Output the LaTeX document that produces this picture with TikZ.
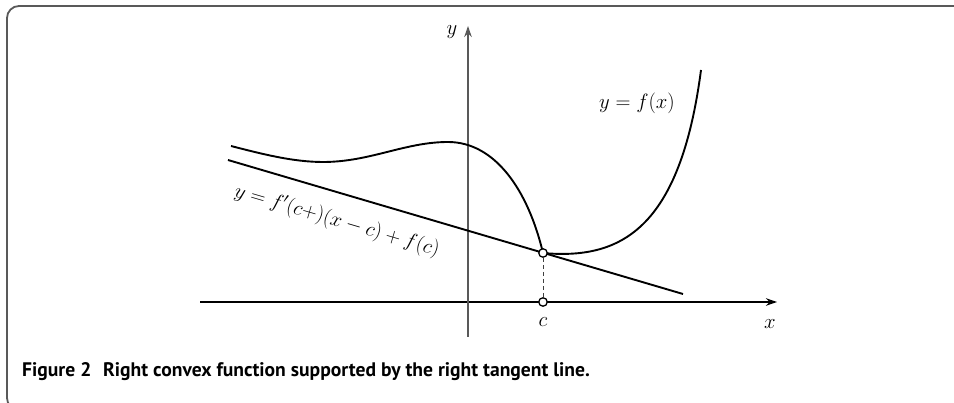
\documentclass[tikz,border=0pt]{standalone}
\usepackage{fontspec}
\setsansfont{PT Sans}
\usetikzlibrary{arrows.meta}
\begin{document}
\begin{tikzpicture}[x=1pt,y=-1pt,
  curve/.style={line width=1.9pt,black,line join=round},
  axis/.style={line width=1.5pt},
  dot/.style={circle,draw=black,fill=white,line width=1.3pt,inner sep=0pt,minimum size=8.5pt},
  lab/.style={font=\fontsize{22}{26}\selectfont,inner sep=0pt},
  arr/.style={-{Stealth[length=11pt,width=7.5pt]}}]
\useasboundingbox (0,0) rectangle (954,403);
% frame
\draw[line width=1.8pt,gray!70!black,rounded corners=12pt] (970,6) -- (7,6) -- (7,410) -- (40,410);
% axes
\coordinate (xs) at (200,302);
\coordinate (xe) at (777,302);
\coordinate (ys) at (468,337);
\coordinate (ye) at (468,26);
\draw[axis,black,arr] (xs) -- (xe);
\draw[axis,line width=1.8pt,gray!70!black,arr] (ys) -- (ye);
\node[lab] (ylab) at (452,32) {$y$};
\node[lab] (xlab) at (770,324) {$x$};
% tangent line
\coordinate (ts) at (228,160);
\coordinate (te) at (683,294);
\draw[curve] (ts) -- (te);
% curve
\coordinate (c0) at (231,146);
\coordinate (c1) at (323,162);
\coordinate (c2) at (448,142);
\coordinate (c3) at (543,253);
\coordinate (c4) at (701,70);
\draw[curve] (c0) .. controls (262,154) and (293,162) .. (c1)
  .. controls (370,162) and (405,142) .. (c2)
  .. controls (495,142) and (528,190) .. (c3);
\draw[curve] (c3) .. controls (620,260) and (680,230) .. (c4);
% points
\node[dot] (P) at (c3) {};
\node[dot] (C) at (543,302) {};
\draw[line width=1pt,gray!50!black,dash pattern=on 4pt off 3pt] (P) -- (C);
\node[lab] (clab) at (543,322) {$c$};
\node[lab] (flab) at (637,103) {$y=f(x)$};
\node[lab,rotate=-16.4] (tlab) at (337,221) {$y=f'(c{+})(x-c)+f(c)$};
% caption
\node[anchor=base west,inner sep=0pt,font=\sffamily\bfseries\fontsize{19.6}{23}\selectfont] (cap) at (22,377) {Figure 2\hspace{0.6em}Right convex function supported by the right tangent line.};
\end{tikzpicture}
\end{document}
